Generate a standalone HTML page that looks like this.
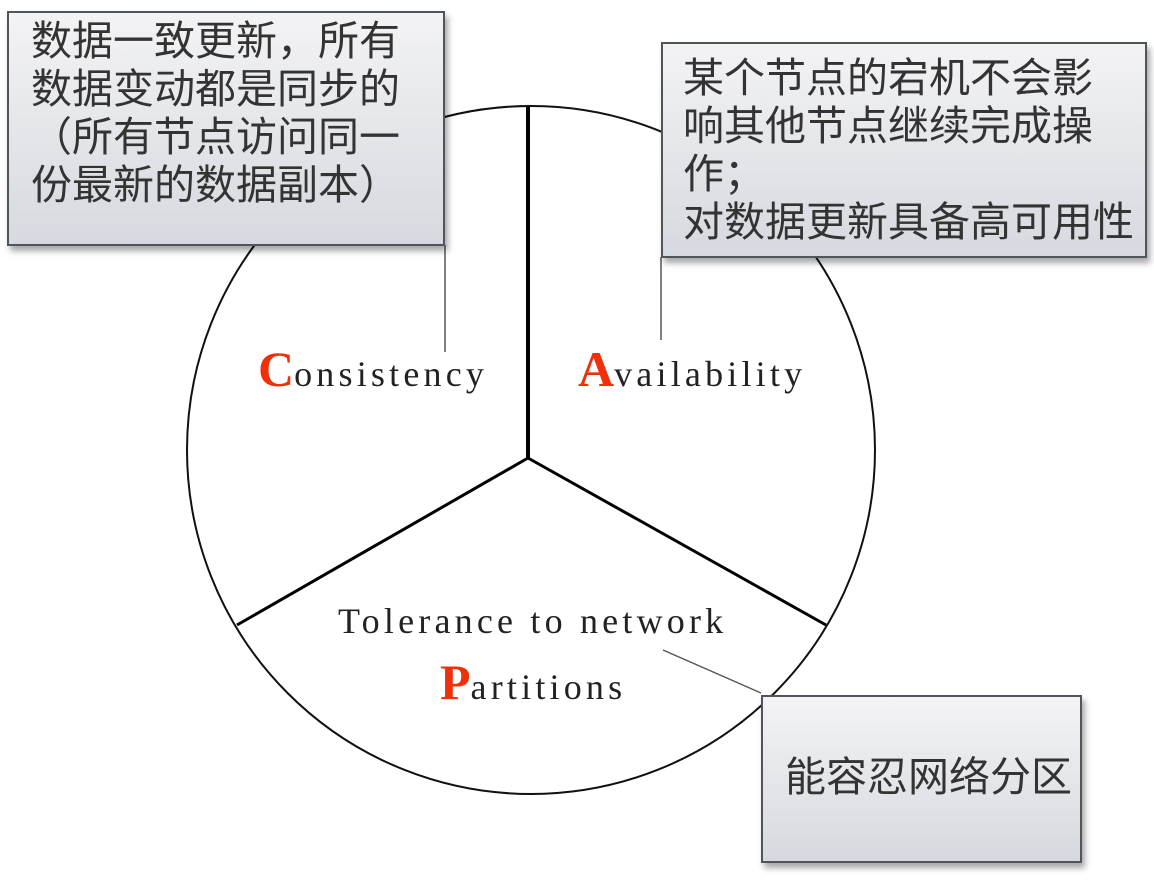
<!DOCTYPE html>
<html><head><meta charset="utf-8"><style>
body{margin:0;width:1154px;height:886px;background:#fff;position:relative;overflow:hidden;font-family:"Liberation Sans","Noto Sans CJK SC",sans-serif}
.box{position:absolute;border:2px solid #50545b;background:linear-gradient(#f3f3f5,#d6d9df);box-shadow:3px 5px 6px rgba(0,0,0,0.35);color:#333;font-size:41px;line-height:48px;box-sizing:border-box;white-space:nowrap}
.lab{position:absolute;font-family:"Liberation Serif",serif;font-size:36px;color:#222;letter-spacing:4.2px;white-space:nowrap}
.r{color:#f0300a;font-size:50px;font-weight:bold;letter-spacing:0}
</style></head><body>
<svg width="1154" height="886" style="position:absolute;left:0;top:0">
<circle cx="531" cy="450" r="344" fill="none" stroke="#111" stroke-width="2"/>
<line x1="528" y1="106" x2="528" y2="458" stroke="#000" stroke-width="4"/>
<line x1="528" y1="458" x2="237" y2="625" stroke="#000" stroke-width="3"/>
<line x1="528" y1="458" x2="826" y2="625" stroke="#000" stroke-width="3"/>
<line x1="445" y1="245" x2="445" y2="352" stroke="#555" stroke-width="1.5"/>
<line x1="661" y1="257" x2="661" y2="340" stroke="#555" stroke-width="1.5"/>
<line x1="663" y1="650" x2="761" y2="693" stroke="#555" stroke-width="1.5"/>
</svg>
<div class="box" style="left:7px;top:11px;width:438px;height:235px;padding:4px 0 0 22px">数据一致更新，所有<br>数据变动都是同步的<br>（所有节点访问同一<br>份最新的数据副本）</div>
<div class="box" style="left:661px;top:42px;width:486px;height:216px;padding:10px 0 0 20px">某个节点的宕机不会影<br>响其他节点继续完成操<br>作；<br>对数据更新具备高可用性</div>
<div class="box" style="left:761px;top:695px;width:321px;height:168px;padding:56px 0 0 22px">能容忍网络分区</div>
<div class="lab" style="left:258px;top:340px"><span class="r">C</span>onsistency</div>
<div class="lab" style="left:578px;top:340px"><span class="r">A</span>vailability</div>
<div class="lab" style="left:338px;top:600px">Tolerance to network</div>
<div class="lab" style="left:440px;top:653px"><span class="r">P</span>artitions</div>
</body></html>
